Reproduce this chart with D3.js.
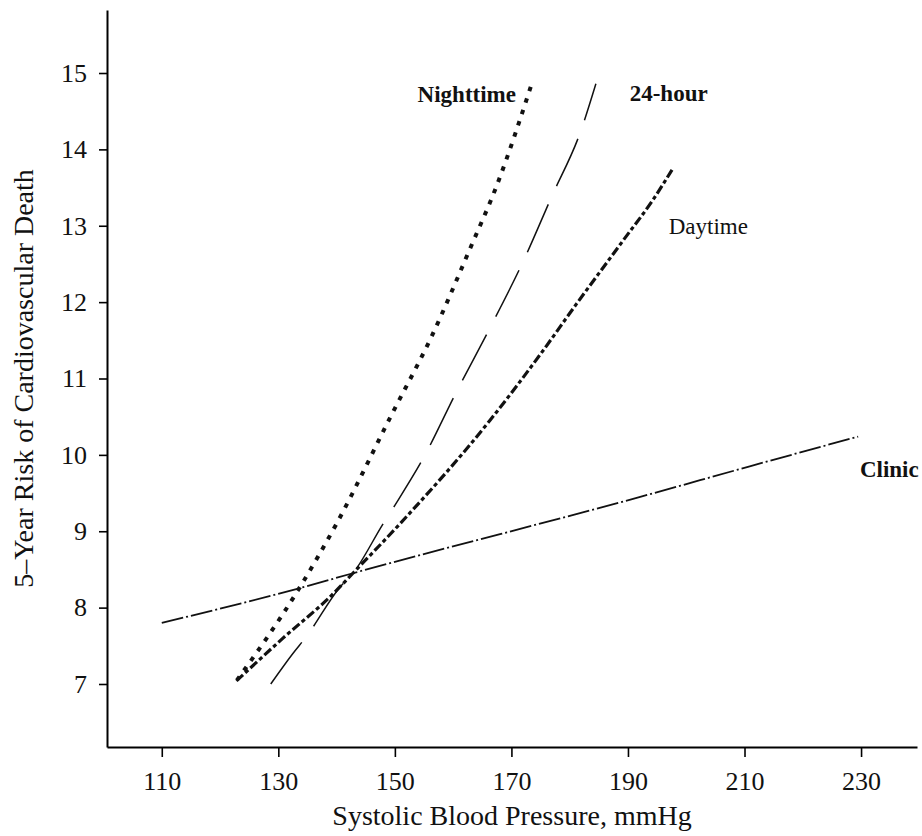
<!DOCTYPE html>
<html>
<head>
<meta charset="utf-8">
<script src="https://cdn.jsdelivr.net/npm/d3@7"></script>
<style>
  html, body { margin: 0; padding: 0; background: #fff; }
  svg { display: block; font-family: "Liberation Serif", "DejaVu Serif", serif; }
</style>
</head>
<body>
<svg id="chart" width="922" height="836"></svg>
<script>
// ── Data ───────────────────────────────────────────────────────────────────
const xTicks = [110, 130, 150, 170, 190, 210, 230];
const yTicks = [7, 8, 9, 10, 11, 12, 13, 14, 15];

const nighttimeSbp  = [122.9, 133.4, 140.0, 149.4, 156.3, 162.9, 167.5, 173.7];
const nighttimeRisk = [7.05, 8.23, 9.10, 10.52, 11.55, 12.70, 13.53, 14.91];

const daytimeSbp  = [122.8, 130.8, 139.4, 142.8, 150.9, 166.3, 174.9, 181.2, 189.2, 194.3, 197.7];
const daytimeRisk = [7.04, 7.60, 8.18, 8.45, 9.10, 10.45, 11.31, 11.98, 12.81, 13.34, 13.75];

const hour24Sbp  = [128.7, 132.5, 134.8, 140.6, 142.8, 148.0, 150.0, 154.9, 160.6, 166.3, 172.0, 176.9, 181.9, 184.5];
const hour24Risk = [7.00, 7.40, 7.62, 8.27, 8.45, 9.10, 9.34, 9.96, 10.83, 11.66, 12.53, 13.38, 14.24, 14.86];

const clinicSbp  = [110.0, 133.4, 142.8, 192.1, 210.9, 229.5];
const clinicRisk = [7.80, 8.25, 8.45, 9.45, 9.85, 10.24];

// label anchors, in data units (left edge, baseline)
const labelNames = ["Nighttime", "24-hour", "Daytime", "Clinic"];
const labelSbp   = [153.9, 190.3, 197.0, 229.8];
const labelRisk  = [14.62, 14.64, 12.89, 9.71];

// ── Layout ─────────────────────────────────────────────────────────────────
const svg = d3.select("#chart");
const margin = { top: 10, right: 5, bottom: 89, left: 107 };
const width = 922 - margin.left - margin.right;
const height = 836 - margin.top - margin.bottom;

const x = d3.scaleLinear().domain([100.6, 239.6]).range([margin.left, margin.left + width]);
const y = d3.scaleLinear().domain([6.175, 15.825]).range([margin.top + height, margin.top]);

// ── Axes ───────────────────────────────────────────────────────────────────
const xAxis = svg.append("g")
  .attr("transform", `translate(0,${margin.top + height})`)
  .call(d3.axisBottom(x).tickValues(xTicks).tickSize(10).tickSizeOuter(0));
xAxis.select(".domain").attr("stroke-width", 2);
xAxis.selectAll(".tick line").attr("stroke-width", 1.6);
xAxis.selectAll(".tick text")
  .attr("y", 43).attr("dy", null)
  .attr("font-size", 26).attr("font-family", "Liberation Serif").attr("fill", "#111");

const yAxis = svg.append("g")
  .attr("transform", `translate(${margin.left},0)`)
  .call(d3.axisLeft(y).tickValues(yTicks).tickSize(8).tickSizeOuter(0));
yAxis.select(".domain").attr("stroke-width", 2);
yAxis.selectAll(".tick line").attr("stroke-width", 1.6);
yAxis.selectAll(".tick text")
  .attr("x", -20)
  .attr("font-size", 26).attr("font-family", "Liberation Serif").attr("fill", "#111");

// axis titles
svg.append("text")
  .attr("x", margin.left + width / 2)
  .attr("y", 825)
  .attr("text-anchor", "middle")
  .attr("font-size", 28)
  .attr("fill", "#111")
  .text("Systolic Blood Pressure, mmHg");

svg.append("text")
  .attr("transform", `translate(33,${margin.top + height / 2}) rotate(-90)`)
  .attr("text-anchor", "middle")
  .attr("font-size", 28)
  .attr("fill", "#111")
  .text("5\u2013Year Risk of Cardiovascular Death");

// ── Lines ──────────────────────────────────────────────────────────────────
const line = d3.line()
  .x(d => x(d[0]))
  .y(d => y(d[1]))
  .curve(d3.curveMonotoneX);

const series = [
  { name: "Clinic",    xs: clinicSbp,    ys: clinicRisk,    width: 1.8, dash: "22,3,2,3" },
  { name: "24-hour",   xs: hour24Sbp,    ys: hour24Risk,    width: 1.5, dash: "52,20" },
  { name: "Daytime",   xs: daytimeSbp,   ys: daytimeRisk,   width: 3.2, dash: "9,3,4,3" },
  { name: "Nighttime", xs: nighttimeSbp, ys: nighttimeRisk, width: 4,   dash: "4.5,7.5" },
];

svg.append("g")
  .selectAll("path")
  .data(series)
  .join("path")
  .attr("d", s => line(d3.zip(s.xs, s.ys)))
  .attr("fill", "none")
  .attr("stroke", "#111")
  .attr("stroke-width", s => s.width)
  .attr("stroke-dasharray", s => s.dash);

// ── Series labels ──────────────────────────────────────────────────────────
svg.append("g")
  .selectAll("text")
  .data(labelNames)
  .join("text")
  .attr("x", (d, i) => x(labelSbp[i]))
  .attr("y", (d, i) => y(labelRisk[i]))
  .attr("font-size", 23)
  .attr("font-weight", d => d === "Daytime" ? "normal" : "bold")
  .attr("fill", "#111")
  .text(d => d);
</script>
</body>
</html>
